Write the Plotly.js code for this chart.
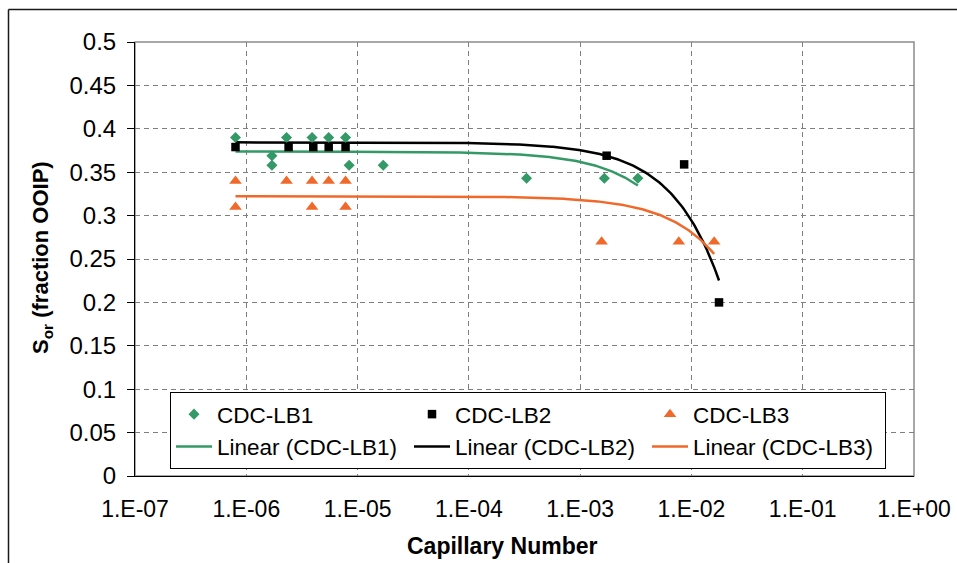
<!DOCTYPE html>
<html>
<head>
<meta charset="utf-8">
<script src="https://cdn.plot.ly/plotly-3.0.1.min.js"></script>
<style>html,body{margin:0;padding:0;background:#fff;}#chart{width:957px;height:563px;}</style>
</head>
<body>
<div id="chart"></div>
<script>
// ---- data ----
const lb1X = [8e-7, 1.7e-6, 1.7e-6, 2.3e-6, 3.9e-6, 5.5e-6, 7.8e-6, 8.4e-6, 1.7e-5, 3.3e-4, 1.65e-3, 3.3e-3];
const lb1Y = [0.39, 0.369, 0.358, 0.39, 0.39, 0.39, 0.39, 0.358, 0.358, 0.343, 0.343, 0.343];
const lb2X = [8e-7, 2.4e-6, 4e-6, 5.5e-6, 7.8e-6, 1.73e-3, 8.6e-3, 1.77e-2];
const lb2Y = [0.379, 0.379, 0.379, 0.379, 0.379, 0.369, 0.359, 0.2];
const lb3X = [8e-7, 2.3e-6, 3.9e-6, 5.5e-6, 7.8e-6, 8e-7, 3.9e-6, 7.8e-6, 1.56e-3, 7.7e-3, 1.6e-2];
const lb3Y = [0.34, 0.34, 0.34, 0.34, 0.34, 0.31, 0.31, 0.31, 0.27, 0.27, 0.27];
const seriesNames = ['CDC-LB1', 'CDC-LB2', 'CDC-LB3'];
const xTickVals = [1e-7, 1e-6, 1e-5, 1e-4, 1e-3, 1e-2, 1e-1, 1];
const xTickText = ['1.E-07', '1.E-06', '1.E-05', '1.E-04', '1.E-03', '1.E-02', '1.E-01', '1.E+00'];

// Excel-style linear trendline (least squares in linear x), drawn over the data's x span
function linearTrend(xs, ys) {
  const n = xs.length;
  const mx = xs.reduce((a, b) => a + b, 0) / n;
  const my = ys.reduce((a, b) => a + b, 0) / n;
  let sxy = 0, sxx = 0;
  for (let i = 0; i < n; i++) { sxy += (xs[i] - mx) * (ys[i] - my); sxx += (xs[i] - mx) * (xs[i] - mx); }
  const slope = sxy / sxx, icpt = my - slope * mx;
  const lo = Math.log10(Math.min(...xs)), hi = Math.log10(Math.max(...xs));
  const tx = [], ty = [];
  const steps = 300;
  for (let k = 0; k <= steps; k++) {
    const x = Math.pow(10, lo + (hi - lo) * k / steps);
    tx.push(x); ty.push(icpt + slope * x);
  }
  return {x: tx, y: ty};
}

const colors = ['#339966', '#000000', '#F0692A'];
const symbols = ['diamond', 'square', 'triangle-up'];
const sizes = [8.5, 8.5, 11];
const xs = [lb1X, lb2X, lb3X], ys = [lb1Y, lb2Y, lb3Y];

const traces = [];
for (let i = 0; i < 3; i++) {
  const t = linearTrend(xs[i], ys[i]);
  traces.push({x: t.x, y: t.y, type: 'scatter', mode: 'lines', name: 'Linear (' + seriesNames[i] + ')',
    line: {color: colors[i], width: 2.5}, legendrank: 4 + i, hoverinfo: 'skip'});
}
for (let i = 0; i < 3; i++) {
  traces.push({x: xs[i], y: ys[i], type: 'scatter', mode: 'markers', name: seriesNames[i],
    marker: {color: colors[i], symbol: symbols[i], size: sizes[i], line: {width: 0}}, legendrank: 1 + i});
}

const W = 957, H = 563, L = 135, R = 914, T = 42, B = 476;
const pw = R - L, ph = B - T;
const px = v => (v - L) / pw, py = v => (B - v) / ph;
const font = 'Liberation Sans, Arial, sans-serif';

const layout = {
  width: W, height: H,
  margin: {l: L, r: W - R, t: T, b: H - B, pad: 0},
  paper_bgcolor: '#ffffff', plot_bgcolor: '#ffffff',
  font: {family: font, size: 22, color: '#000'},
  showlegend: true,
  xaxis: {
    type: 'log', range: [-7, 0], tickvals: xTickVals, ticktext: xTickText,
    ticks: '', showline: true, linecolor: '#000', linewidth: 1,
    showgrid: true, gridcolor: '#7f7f7f', gridwidth: 1, griddash: '5px,4px',
    zeroline: false, tickfont: {size: 23, family: font}, ticklabelstandoff: 12, automargin: false
  },
  yaxis: {
    range: [0, 0.5], tick0: 0, dtick: 0.05,
    ticks: 'outside', ticklen: 7, tickcolor: '#000', tickwidth: 1,
    showline: true, linecolor: '#000', linewidth: 1,
    showgrid: true, gridcolor: '#7f7f7f', gridwidth: 1, griddash: '5px,4px',
    zeroline: false, tickfont: {size: 24, family: font}, ticklabelstandoff: 6, automargin: false
  },
  legend: {
    orientation: 'h', x: px(170), xanchor: 'left', y: py(392), yanchor: 'top',
    bgcolor: '#ffffff', bordercolor: '#000', borderwidth: 1,
    font: {size: 22.5, family: font}, entrywidth: 187, entrywidthmode: 'pixels',
    itemwidth: 36, traceorder: 'normal'
  },
  annotations: [
    {text: '<b>Capillary Number</b>', xref: 'paper', yref: 'paper', x: px(502), y: py(546),
     xanchor: 'center', yanchor: 'middle', showarrow: false, font: {size: 23, family: font}},
    {text: '<b>S<sub>or</sub> (fraction OOIP)</b>', xref: 'paper', yref: 'paper', x: px(42), y: py(258),
     xanchor: 'center', yanchor: 'middle', showarrow: false, textangle: -90, font: {size: 22, family: font}}
  ],
  shapes: [
    {type: 'rect', xref: 'paper', yref: 'paper', x0: 0, x1: 1, y0: 0, y1: 1,
     line: {color: '#8c8c8c', width: 1.5}, layer: 'below'},
    {type: 'line', xref: 'paper', yref: 'paper', x0: px(8.5), x1: px(8.5), y0: py(9.5), y1: py(600),
     line: {color: '#1a1a1a', width: 1.5}},
    {type: 'line', xref: 'paper', yref: 'paper', x0: px(8.5), x1: px(1000), y0: py(9.5), y1: py(9.5),
     line: {color: '#1a1a1a', width: 1.5}}
  ]
};

Plotly.newPlot('chart', traces, layout, {displayModeBar: false, staticPlot: true});
</script>
</body>
</html>
